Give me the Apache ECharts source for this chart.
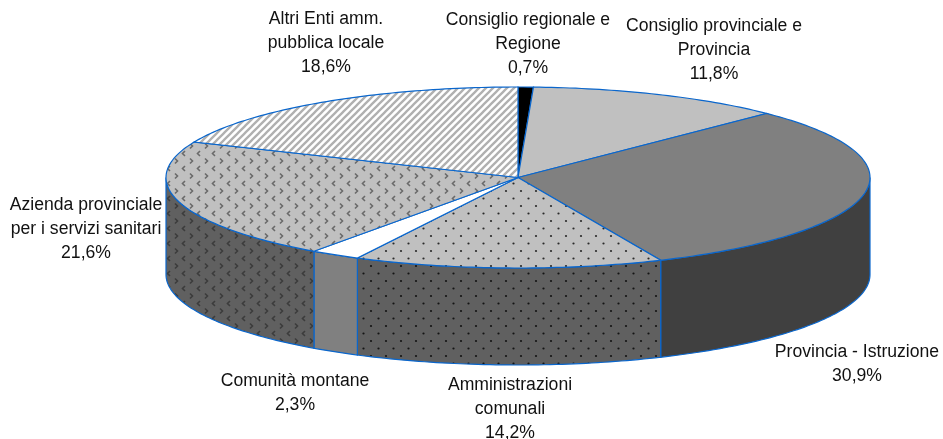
<!DOCTYPE html>
<html>
<head>
<meta charset="utf-8">
<title>Pie</title>
<script src="https://cdn.jsdelivr.net/npm/echarts@6/dist/echarts.min.js"></script>
<style>
html, body { margin: 0; padding: 0; background: #fff; }
#chart { width: 943px; height: 439px; }
</style>
</head>
<body>
<div id="chart"></div>
<script>
// slices, clockwise from 12 o'clock
const names = [
  "Consiglio regionale e\nRegione",
  "Consiglio provinciale e\nProvincia",
  "Provincia - Istruzione",
  "Amministrazioni\ncomunali",
  "Comunità montane",
  "Azienda provinciale\nper i servizi sanitari",
  "Altri Enti amm.\npubblica locale"
];
const values = [0.7, 11.8, 30.9, 14.2, 2.3, 21.6, 18.6];

// drawing setup, same order as the slices
const topFills = ["#000000", "#c0c0c0", "#808080", "dotsTop", "#ffffff", "chevTop", "stripes"];
const wallFills = ["#000000", "#606060", "#404040", "dotsWall", "#808080", "chevWall", "#606060"];
const labelAt = [[528, 8], [714, 14], [857, 340], [510, 373], [295, 369], [86, 193], [326, 7]];

const cx = 518, cy = 177.5, rx = 352, ry = 90.5, depth = 97;
const edge = "#0a66cc";

const total = values.reduce((a, b) => a + b, 0);
const cum = [];
values.reduce((acc, v, i) => {
  cum[i] = [acc, acc + v];
  return acc + v;
}, 0);

const tile = (w, h, bg, draw) => {
  const c = document.createElement("canvas");
  c.width = w;
  c.height = h;
  const g = c.getContext("2d");
  g.fillStyle = bg;
  g.fillRect(0, 0, w, h);
  draw(g);
  return { image: c, repeat: "repeat" };
};
const dots = (bg, ink) => tile(15, 15, bg, g => {
  g.fillStyle = ink;
  [[3.5, 3.5], [11, 11]].forEach(p => {
    g.beginPath();
    g.arc(p[0], p[1], 1.1, 0, Math.PI * 2);
    g.fill();
  });
});
const chevrons = (bg, ink) => tile(15, 15, bg, g => {
  g.strokeStyle = ink;
  g.lineWidth = 1.6;
  g.beginPath();
  g.moveTo(5, 1); g.lineTo(2.5, 3.5); g.lineTo(5, 6);
  g.moveTo(10, 8.5); g.lineTo(12.5, 11); g.lineTo(10, 13.5);
  g.stroke();
});
const stripes = tile(7, 7, "#ffffff", g => {
  g.strokeStyle = "#b0b0b0";
  g.lineWidth = 2.3;
  g.beginPath();
  g.moveTo(-1, 8); g.lineTo(8, -1);
  g.moveTo(-4, 4); g.lineTo(4, -4);
  g.moveTo(3, 11); g.lineTo(11, 3);
  g.stroke();
});
const patterns = {
  dotsTop: dots("#c0c0c0", "#2a2a2a"),
  dotsWall: dots("#606060", "#141414"),
  chevTop: chevrons("#c0c0c0", "#6a6a6a"),
  chevWall: chevrons("#606060", "#3c3c3c"),
  stripes: stripes
};
const paint = f => patterns[f] || f;

// point on the rim, a in degrees clockwise from the top
const rim = (a, dy) => {
  const t = a * Math.PI / 180;
  return [cx + rx * Math.sin(t), cy - ry * Math.cos(t) + (dy || 0)];
};
const arc = (a, b, dy) => {
  const pts = [];
  const n = Math.max(2, Math.ceil(Math.abs(b - a)));
  for (let i = 0; i <= n; i++) pts.push(rim(a + (b - a) * i / n, dy));
  return pts;
};

const renderSlice = (params, api) => {
  const i = api.value(0);
  const a = api.value(1) / total * 360;
  const b = api.value(2) / total * 360;
  const children = [];
  // only the part of the side between 3 and 9 o'clock faces the viewer
  const wa = Math.max(a, 90), wb = Math.min(b, 270);
  if (wb > wa) {
    children.push({
      type: "polygon",
      z2: 1,
      shape: { points: arc(wa, wb, 0).concat(arc(wb, wa, depth)) },
      style: { fill: paint(wallFills[i]), stroke: edge, lineWidth: 1.2 }
    });
  }
  children.push({
    type: "polygon",
    z2: 2,
    shape: { points: [[cx, cy]].concat(arc(a, b, 0)) },
    style: { fill: paint(topFills[i]), stroke: edge, lineWidth: 1.2 }
  });
  return { type: "group", children: children };
};

const pct = v => v.toFixed(1).replace(".", ",") + "%";

const chart = echarts.init(document.getElementById("chart"), null, { renderer: "canvas" });
chart.setOption({
  animation: false,
  backgroundColor: "#ffffff",
  series: [
    {
      type: "custom",
      coordinateSystem: "none",
      silent: true,
      renderItem: renderSlice,
      data: values.map((v, i) => [i, cum[i][0], cum[i][1]])
    }
  ],
  graphic: names.map((n, i) => ({
    type: "text",
    x: labelAt[i][0],
    y: labelAt[i][1],
    silent: true,
    style: {
      text: n + "\n" + pct(values[i]),
      fill: "#111111",
      font: '17.6px "Liberation Sans", Arial, sans-serif',
      lineHeight: 24,
      align: "center",
      verticalAlign: "top"
    }
  }))
});
</script>
</body>
</html>
